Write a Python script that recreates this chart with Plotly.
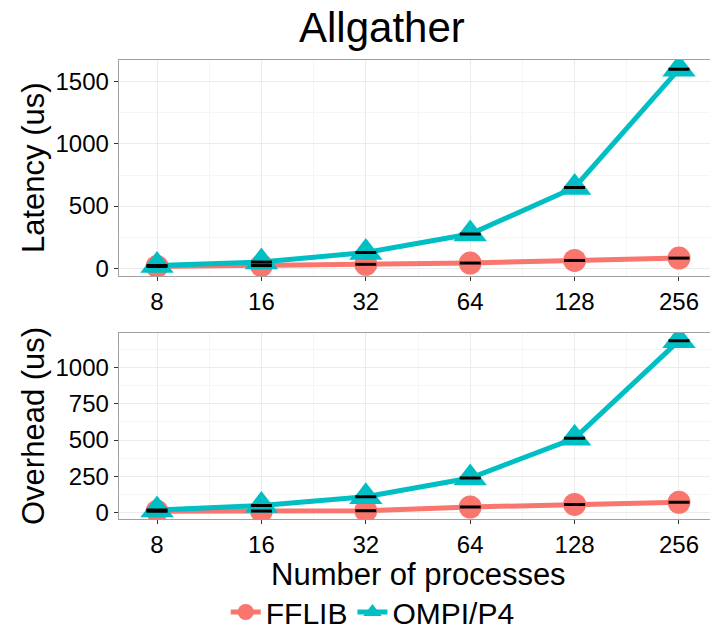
import numpy as np
import plotly.graph_objects as go

procs = [8, 16, 32, 64, 128, 256]
tick_labels = ["8", "16", "32", "64", "128", "256"]
fflib_latency = [15, 22, 32, 42, 63, 82]
ompi_latency = [22, 50, 127, 275, 650, 1601]
fflib_overhead = [8, 9, 11, 37, 55, 69]
ompi_overhead = [16, 48, 108, 237, 512, 1187]

RED = "#F8766D"
CYAN = "#00BFC4"
FONT = "Liberation Sans, Arial, sans-serif"

xpos = np.log2(procs)

fig = go.Figure()

def add_panel(yf, yo, xa, ya, legend):
    fig.add_trace(go.Scatter(
        x=xpos, y=yf, mode="lines+markers", name="FFLIB",
        line=dict(color=RED, width=5),
        marker=dict(symbol="circle", size=23, color=RED, line=dict(width=0)),
        xaxis=xa, yaxis=ya, showlegend=legend, legendgroup="f"))
    fig.add_trace(go.Scatter(
        x=xpos, y=yo, mode="lines+markers", name="OMPI/P4",
        line=dict(color=CYAN, width=5),
        marker=dict(symbol="triangle-up", size=29, color=CYAN, line=dict(width=0)),
        xaxis=xa, yaxis=ya, showlegend=legend, legendgroup="o"))
    for vals in (yf, yo):
        fig.add_trace(go.Scatter(
            x=xpos, y=vals, mode="markers",
            marker=dict(symbol="line-ew", size=15, color="black",
                        line=dict(width=3, color="black")),
            xaxis=xa, yaxis=ya, showlegend=False, hoverinfo="skip"))

add_panel(fflib_latency, ompi_latency, "x", "y", True)
add_panel(fflib_overhead, ompi_overhead, "x2", "y2", False)

xcommon = dict(
    range=[3 - 0.367, 8 + 0.297], tickvals=list(xpos), ticktext=tick_labels,
    showgrid=True, gridcolor="#EBEBEB", gridwidth=1,
    minor=dict(dtick=0.5, tick0=3, showgrid=True, gridcolor="#F5F5F5", ticks=""),
    ticks="outside", ticklen=4, tickcolor="#333333",
    tickfont=dict(family=FONT, size=24, color="black"),
    showline=True, linecolor="#A0A0A0", linewidth=1, mirror=True,
    zeroline=False, domain=[0.1672, 1.0])

ycommon = dict(
    showgrid=True, gridcolor="#EBEBEB", gridwidth=1,
    ticks="outside", ticklen=4, tickcolor="#333333",
    tickfont=dict(family=FONT, size=24, color="black"),
    showline=True, linecolor="#A0A0A0", linewidth=1, mirror=True,
    zeroline=False)

fig.update_layout(
    width=710, height=631,
    margin=dict(l=0, r=0, t=0, b=0, autoexpand=False),
    paper_bgcolor="white", plot_bgcolor="white",
    font=dict(family=FONT, color="black"),
    xaxis=dict(**xcommon, anchor="y"),
    xaxis2=dict(**xcommon, anchor="y2"),
    yaxis=dict(**ycommon, range=[-62, 1677], tickvals=[0, 500, 1000, 1500],
               minor=dict(dtick=250, tick0=0, showgrid=True, gridcolor="#F5F5F5", ticks=""),
               domain=[0.5626, 0.9054], anchor="x"),
    yaxis2=dict(**ycommon, range=[-46, 1242], tickvals=[0, 250, 500, 750, 1000],
                minor=dict(dtick=125, tick0=0, showgrid=True, gridcolor="#F5F5F5", ticks=""),
                domain=[0.1775, 0.4727], anchor="x2"),
    legend=dict(orientation="h", x=0.525, xanchor="center", y=(631 - 612) / 631,
                yanchor="middle", font=dict(family=FONT, size=30, color="black"),
                itemsizing="trace", tracegroupgap=0, itemwidth=30,
                bgcolor="rgba(0,0,0,0)"),
    showlegend=True,
)

fig.add_annotation(text="Allgather", x=382 / 710, y=1 - 27 / 631, xref="paper", yref="paper",
                   showarrow=False, font=dict(family=FONT, size=42, color="black"),
                   xanchor="center", yanchor="middle")
fig.add_annotation(text="Latency (us)", x=33 / 710, y=1 - 168 / 631, xref="paper", yref="paper",
                   showarrow=False, textangle=-90, font=dict(family=FONT, size=31, color="black"),
                   xanchor="center", yanchor="middle")
fig.add_annotation(text="Overhead (us)", x=33 / 710, y=1 - 426 / 631, xref="paper", yref="paper",
                   showarrow=False, textangle=-90, font=dict(family=FONT, size=31, color="black"),
                   xanchor="center", yanchor="middle")
fig.add_annotation(text="Number of processes", x=418 / 710, y=1 - 574 / 631, xref="paper", yref="paper",
                   showarrow=False, font=dict(family=FONT, size=31, color="black"),
                   xanchor="center", yanchor="middle")

fig.write_html("out.html")
